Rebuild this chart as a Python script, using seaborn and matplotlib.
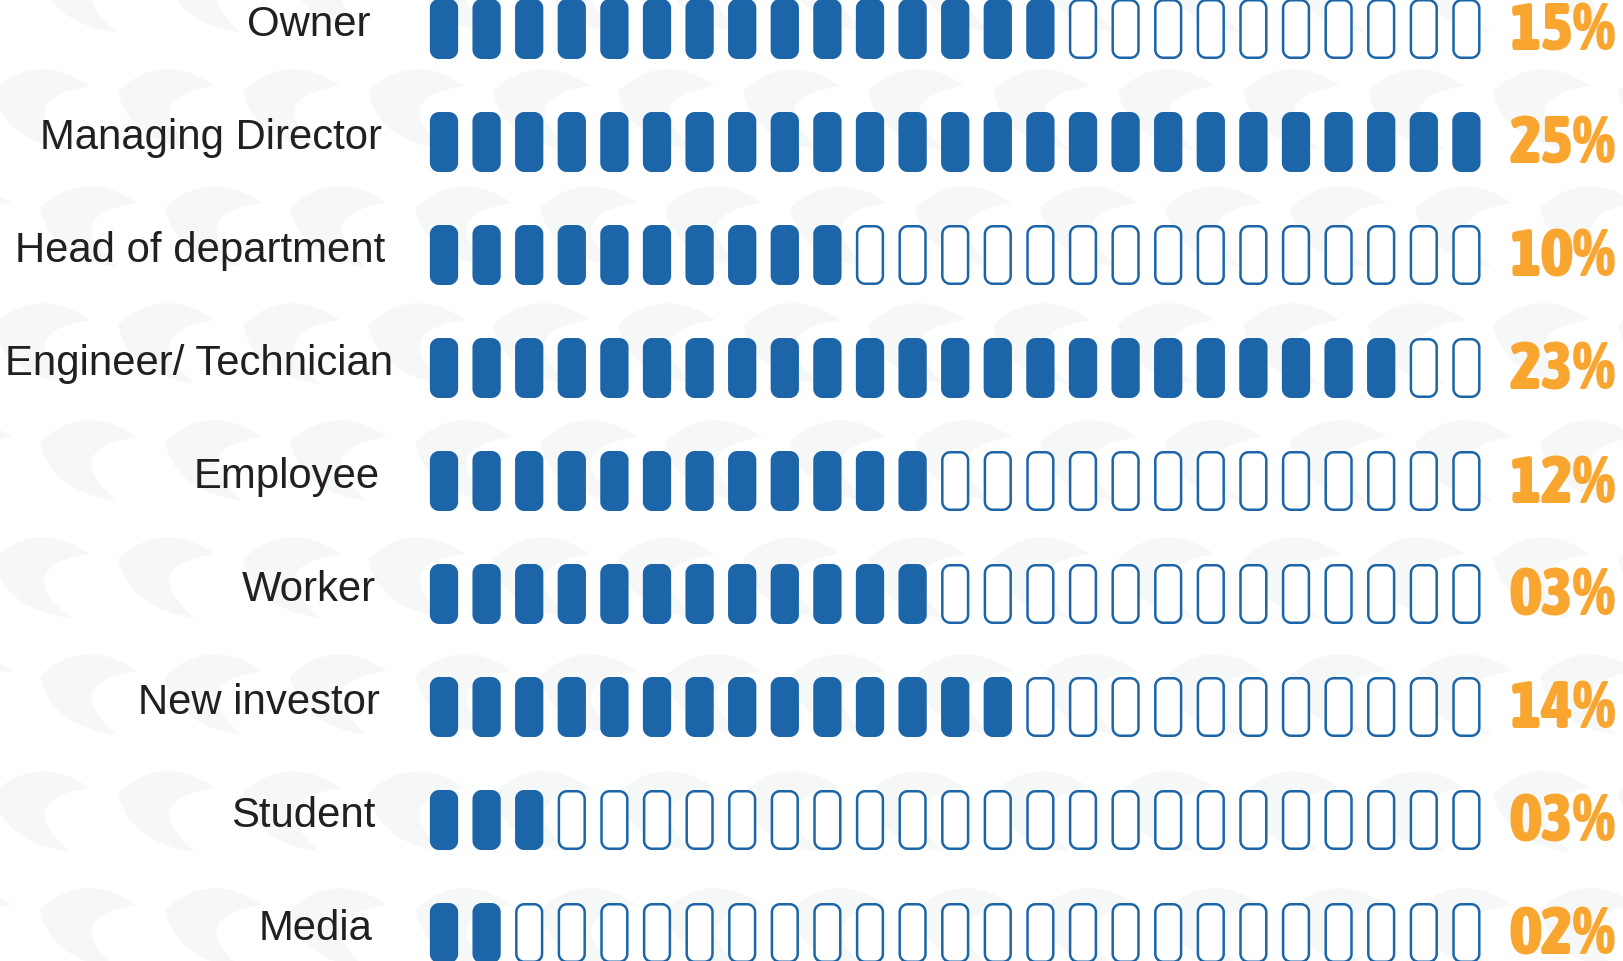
import numpy as np
import pandas as pd
import matplotlib
matplotlib.use("Agg")
import matplotlib.pyplot as plt
from matplotlib.path import Path
from matplotlib.patches import PathPatch
from matplotlib.markers import MarkerStyle
from matplotlib import font_manager as fm
import seaborn as sns

# Chart data
roles = ["Owner", "Managing Director", "Head of department", "Engineer/ Technician",
         "Employee", "Worker", "New investor", "Student", "Media"]
filled_cells = [15, 25, 10, 23, 12, 12, 14, 3, 2]
pct_labels = ["15%", "25%", "10%", "23%", "12%", "03%", "14%", "03%", "02%"]
n_cells = 25

# right edge of each role label, in pixels (labels are not exactly aligned)
label_right_px = [371, 382, 385, 393, 380, 376, 380, 375, 373]

BLUE = "#1b65a8"
ORANGE = "#f9a630"
TEXT = "#231f20"

# one record per pill
rows = []
for r, (role, n) in enumerate(zip(roles, filled_cells)):
    for c in range(n_cells):
        rows.append({"role": role, "row": r, "cell": c, "filled": c < n})
df = pd.DataFrame(rows)


def pill_path(hw=13, hh=29, rad=8, k=12):
    pts = []
    corners = [(hw - rad, hh - rad, 0), (-hw + rad, hh - rad, 90),
               (-hw + rad, -hh + rad, 180), (hw - rad, -hh + rad, 270)]
    for cx, cy, a0 in corners:
        t = np.radians(np.linspace(a0, a0 + 90, k))
        pts += list(zip(cx + rad * np.cos(t), cy + rad * np.sin(t)))
    pts.append(pts[0])
    codes = [Path.MOVETO] + [Path.LINETO] * (len(pts) - 2) + [Path.CLOSEPOLY]
    return Path(pts, codes)


def condensed_bold_font():
    # look for a narrow / condensed bold face for the percentages
    best, best_w = None, 0
    wmap = {"bold": 700, "heavy": 800, "black": 900, "extra bold": 800, "semibold": 600}
    for f in fm.fontManager.ttflist:
        name = f.name.lower()
        st = f.stretch
        narrow = ("narrow" in name or "condensed" in name
                  or (isinstance(st, str) and "condensed" in st)
                  or (isinstance(st, (int, float)) and st < 500))
        w = f.weight if isinstance(f.weight, (int, float)) else wmap.get(f.weight, 400)
        if narrow and f.style == "normal" and w >= 700 and w > best_w:
            best, best_w = f.fname, w
    if best:
        return fm.FontProperties(fname=best)
    return fm.FontProperties(family="DejaVu Sans", weight="bold")


W, H, DPI = 1624, 962, 100
fig = plt.figure(figsize=(W / DPI, H / DPI), dpi=DPI)

# faint watermark pattern in the background
bg = fig.add_axes([0, 0, 1, 1], zorder=0)
bg.set_xlim(0, W)
bg.set_ylim(H, 0)
bg.axis("off")

shape = np.array([[0, 22], [45, -19], [97, 17], [17, 29], [77, 81], [11, 72], [0, 22]])
codes = [Path.MOVETO, Path.CURVE3, Path.CURVE3, Path.CURVE3, Path.CURVE3,
         Path.CURVE3, Path.CURVE3]
for k in range(-4, 5):
    top = 421 + 117 * k
    start = 40 if k % 2 == 0 else -7
    for j in range(-1, 14):
        p = Path(shape + [start + 125 * j, top], codes)
        bg.add_patch(PathPatch(p, facecolor="#f6f8f7", lw=0))

ax = fig.add_axes([0, 0, 1, 1], zorder=1)
ax.patch.set_alpha(0)

sns.scatterplot(data=df, x="cell", y="row", hue="filled",
                palette={True: BLUE, False: "white"},
                marker=MarkerStyle(pill_path()), s=1714,
                edgecolor=BLUE, linewidth=1.8, legend=False, ax=ax)

# pixel layout: cell 0 at x=444, pitch 42.6; row 0 at y=30, pitch 113
X0, DX, Y0, DY = 444, 42.6, 30, 113
ax.set_xlim(-X0 / DX, (W - X0) / DX)
ax.set_ylim((H - Y0) / DY, -Y0 / DY)
ax.axis("off")

for r, role in enumerate(roles):
    ax.text((label_right_px[r] - X0) / DX, r + 6 / DY, role, ha="right", va="baseline",
            fontsize=30.2, color=TEXT, family=["Liberation Sans", "DejaVu Sans"])

# percentages: fit the font so "15%" is about 110 px wide
pfont = condensed_bold_font()
size = 45
probe = ax.text(0, 0, "15%", fontproperties=pfont, fontsize=size)
fig.canvas.draw()
wpx = probe.get_window_extent().width
probe.remove()
size = min(size * 110 / wpx, 49)
cap_px = 0.72 * size * DPI / 72

for r, pct in enumerate(pct_labels):
    ax.text((1510 - X0) / DX, r + (cap_px / 2 - 4) / DY, pct, ha="left", va="baseline",
            fontproperties=pfont, fontsize=size, color=ORANGE)

fig.savefig("out.png", dpi=DPI)
